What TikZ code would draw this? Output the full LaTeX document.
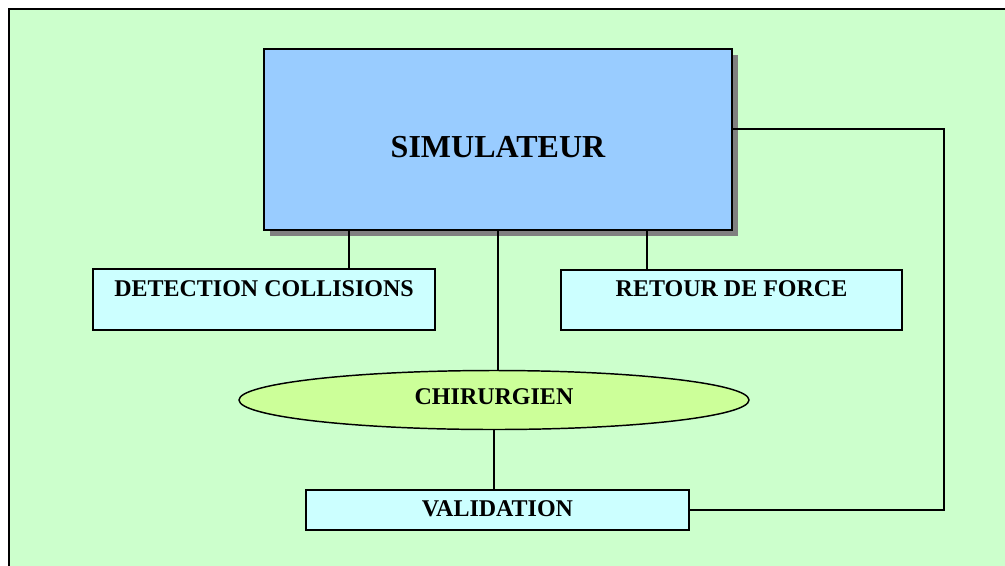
\documentclass[tikz,border=0pt]{standalone}
\usepackage{fontspec}
\setmainfont{Liberation Serif}
\usetikzlibrary{shapes.geometric,shadows}
\definecolor{bggreen}{HTML}{CCFFCC}
\definecolor{simblue}{HTML}{99CCFF}
\definecolor{boxcyan}{HTML}{CCFFFF}
\definecolor{elllime}{HTML}{CCFF99}
\definecolor{shadowgray}{HTML}{808080}
\tikzset{
  mainbox/.style={draw=black, line width=1.5pt, fill=simblue, inner sep=0pt,
    minimum width=351pt, minimum height=135.75pt,
    font=\fontsize{24pt}{26pt}\selectfont\bfseries,
    text height=26.25pt, text depth=0pt,
    drop shadow={shadow xshift=4.5pt, shadow yshift=-4.5pt, fill=shadowgray, opacity=1}},
  subbox/.style={draw=black, line width=1.2pt, fill=boxcyan, inner sep=0pt,
    font=\fontsize{18pt}{20pt}\selectfont\bfseries},
  topalign/.style={text height=12pt, text depth=17.25pt},
  person/.style={ellipse, draw=black, line width=1.1pt, fill=elllime, inner sep=0pt,
    minimum width=382.5pt, minimum height=44.25pt,
    font=\fontsize{18pt}{20pt}\selectfont\bfseries,
    text height=12pt, text depth=6pt},
  link/.style={draw=black, line width=1.1pt}
}
\begin{document}
\begin{tikzpicture}[x=0.75pt,y=-0.75pt]
\useasboundingbox (0,0) rectangle (1005,565);
% background panel
\fill[bggreen] (9,9) rectangle (1010,570);
\draw[black, line width=1.5pt] (9,570) -- (9,9) -- (1010,9);
% nodes
\node[mainbox] (sim) at (498,139.5) {SIMULATEUR};
\node[subbox, topalign, minimum width=256.5pt, minimum height=45.75pt] (det) at (264,299.5) {DETECTION COLLISIONS};
\node[subbox, topalign, minimum width=255.75pt, minimum height=45pt] (ret) at (731.5,300) {RETOUR DE FORCE};
\node[person] (chi) at (494,400) {CHIRURGIEN};
\node[subbox, minimum width=287.25pt, minimum height=30pt, text height=13pt, text depth=4pt] (val) at (497.5,510) {VALIDATION};
% connectors
\coordinate (rside) at (944,0);
\draw[link] ([xshift=63.75pt]det.north) -- ([xshift=63.75pt]det.north |- sim.south);
\draw[link] ([xshift=-63.375pt]ret.north) -- ([xshift=-63.375pt]ret.north |- sim.south);
\draw[link] (sim.south) -- (sim.south |- chi.north);
\draw[link] (chi.south) -- (chi.south |- val.north);
\draw[link] ([yshift=7.875pt]sim.east) -| (rside |- val.east) -- (val.east);
\end{tikzpicture}
\end{document}
